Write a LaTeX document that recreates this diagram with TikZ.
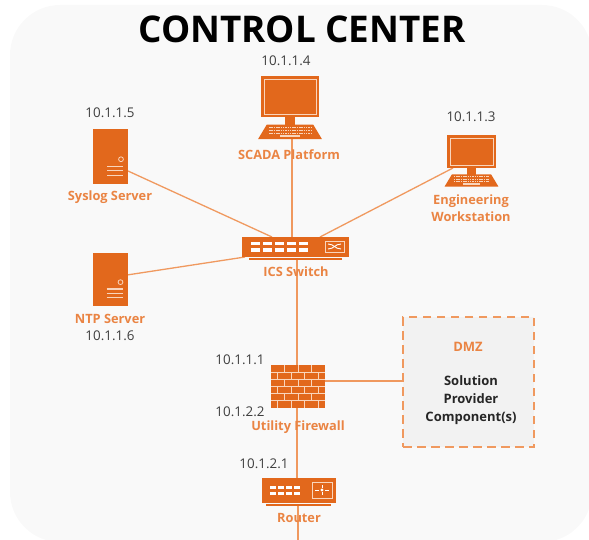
\documentclass[tikz,border=0pt]{standalone}
\usepackage{fontspec}
\setmainfont{Open Sans}
\usetikzlibrary{calc}
\definecolor{iconOrange}{HTML}{E2681C}
\definecolor{textOrange}{HTML}{EA8443}
\definecolor{lineOrange}{HTML}{F0995F}
\definecolor{iconLight}{HTML}{F9D5BC}
\definecolor{panelGray}{HTML}{F9F9F9}
\definecolor{dmzGray}{HTML}{F2F2F2}
\definecolor{ipGray}{HTML}{3F3F3F}
\tikzset{
  device/.style={fill=iconOrange,inner sep=0pt,outer sep=0pt},
  link/.style={draw=lineOrange,line width=1.3pt},
  devlabel/.style={text=textOrange,font=\fontsize{12.8}{17}\selectfont\bfseries,align=center,inner sep=0pt},
  iplabel/.style={text=ipGray,font=\fontsize{13.4}{16}\selectfont,inner sep=0pt},
  dmztext/.style={text=black!85,font=\fontsize{13}{18}\selectfont\bfseries,align=center,inner sep=0pt}
}
% #1 name, #2 centre of the screen, #3 screen width, #4 screen height
\newcommand\drawComputer[4]{
  \node[device,minimum width=#3pt,minimum height=#4pt] (#1) at (#2) {};
  \draw[iconLight,line width=0.7pt] ($(#1.north west)+(3,3)$) rectangle ($(#1.south east)+(-3,-3)$);
  \fill[iconOrange] ($(#1.south)+(-0.085*#3,0)$) rectangle ($(#1.south)+(0.085*#3,0.17*#3)$);
  \fill[iconOrange] ($(#1.south)+(-0.40*#3,0.13*#3)$) -- ($(#1.south)+(0.40*#3,0.13*#3)$)
    -- ($(#1.south)+(0.55*#3,0.38*#3)$) -- ($(#1.south)+(-0.55*#3,0.38*#3)$) -- cycle;
  \foreach \r in {0.18,0.23,0.28}
    \draw[iconLight,line width=0.9pt,dash pattern=on 1.5pt off 0.8pt]
      ($(#1.south)+(-0.36*#3,\r*#3)$) -- ($(#1.south)+(0.36*#3,\r*#3)$);
  \fill[iconLight] ($(#1.south)+(-0.17*#3,0.31*#3)$) rectangle ($(#1.south)+(0.17*#3,0.35*#3)$);
}
% #1 name, #2 centre, #3 height
\newcommand\drawServer[3]{
  \node[device,minimum width=35pt,minimum height=#3pt] (#1) at (#2) {};
  \draw[iconLight,line width=0.8pt] ($(#1.north east)+(-7,0.55*#3)$) circle (2.4pt);
  \foreach \r in {0.68,0.76,0.84}
    \draw[iconLight,line width=1.3pt] ($(#1.north west)+(14,\r*#3)$) -- ($(#1.north west)+(30,\r*#3)$);
}
\begin{document}
\begin{tikzpicture}[x=1pt,y=-1pt]
  \useasboundingbox (0,0) rectangle (589,540);
  \begin{scope}
    \clip (0,0) rectangle (589,540);
    \fill[panelGray,rounded corners=50pt] (10,5) rectangle (592,542);
  \end{scope}

  \node[inner sep=0pt,font=\fontsize{36.8}{40}\selectfont\bfseries] (TITLE) at (302,29) {CONTROL CENTER};

  %% Free ends of the links
  \coordinate (SCADAend) at (292,139);
  \coordinate (ENGend) at (453,168);
  \coordinate (SYSend) at (128,171);
  \coordinate (NTPend) at (127,275);
  \coordinate (SWa) at (292,237);
  \coordinate (SWb) at (320,237);
  \coordinate (SWc) at (272,237);
  \coordinate (SWd) at (245,257);
  \coordinate (SWe) at (297,260);
  \coordinate (FWa) at (297,365);
  \coordinate (FWb) at (297,408);
  \coordinate (FWc) at (325,381);
  \coordinate (DMZa) at (403,381);
  \coordinate (RTa) at (297,478);
  \coordinate (RTb) at (298,506);
  \coordinate (OUT) at (298,540);

  %% Links
  \draw[link] (SCADAend) -- (SWa);
  \draw[link] (ENGend) -- (SWb);
  \draw[link] (SYSend) -- (SWc);
  \draw[link] (NTPend) -- (SWd);
  \draw[link] (SWe) -- (FWa);
  \draw[link] (FWb) -- (RTa);
  \draw[link] (FWc) -- (DMZa);
  \draw[link] (RTb) -- (OUT);

  %% Computers and servers
  \drawComputer{SCADA}{290,96.5}{58}{41}
  \drawComputer{ENG}{471.5,151.5}{49}{33}
  \drawServer{SYSLOG}{110.5,156.5}{55}
  \drawServer{NTP}{110,279.5}{53}

  %% Switch
  \node[device,minimum width=107pt,minimum height=20pt] (SWITCH) at (295.5,247) {};
  \fill[iconOrange] (249,258) rectangle (342,260);
  \foreach \x in {255,267,279,291,303}
  {
    \fill[white] (\x-4.5,242) rectangle (\x+4.5,245.5);
    \fill[white] (\x-4.5,248) rectangle (\x+4.5,251.5);
  }
  \draw[iconLight,line width=0.7pt] (325,241) rectangle (344,252);
  \draw[white,line width=0.9pt] (328,244) .. controls (334,244) and (335,249) .. (341,249);
  \draw[white,line width=0.9pt] (328,249) .. controls (334,249) and (335,244) .. (341,244);

  %% Firewall
  \node[device,minimum width=54pt,minimum height=43pt] (FIREWALL) at (298,386.5) {};
  \foreach \r in {1,...,5}
    \draw[iconLight,line width=0.8pt] (271,365+\r*7.17) -- (325,365+\r*7.17);
  \foreach \r in {0,2,4}
    \foreach \x in {284.5,298,311.5}
      \draw[iconLight,line width=0.8pt] (\x,365+\r*7.17) -- (\x,365+\r*7.17+7.17);
  \foreach \r in {1,3,5}
    \foreach \x in {277.75,291.25,304.75,318.25}
      \draw[iconLight,line width=0.8pt] (\x,365+\r*7.17) -- (\x,365+\r*7.17+7.17);

  %% Router
  \node[device,minimum width=74pt,minimum height=25pt] (ROUTER) at (299,490.5) {};
  \fill[iconOrange] (266,504) rectangle (331,506);
  \foreach \x in {273,281,289,297}
  {
    \fill[white] (\x-3.4,486) rectangle (\x+3.4,489);
    \fill[white] (\x-3.4,491.5) rectangle (\x+3.4,494.5);
  }
  \draw[iconLight,line width=0.7pt] (312,482) rectangle (332,498);
  \draw[white,line width=0.9pt] (322,485) -- (322,488) (322,492) -- (322,495) (315,490) -- (319,490) (325,490) -- (329,490);
  \fill[white] (322,490) circle (1.6pt);

  %% DMZ
  \node[fill=dmzGray,draw=lineOrange,line width=1.2pt,dash pattern=on 8.5pt off 5.5pt,
    minimum width=131pt,minimum height=130pt,inner sep=0pt] (DMZ) at (468.5,382) {};
  \node[devlabel,font=\fontsize{13}{15}\selectfont\bfseries] (DMZlabel) at (468,347) {DMZ};
  \node[dmztext] (DMZtext) at (471,400) {Solution\\Provider\\Component(s)};

  %% Labels
  \node[devlabel] (SCADAlabel) at (289,155) {SCADA Platform};
  \node[devlabel] (ENGlabel) at (471,208.5) {Engineering\\Workstation};
  \node[devlabel] (SYSLOGlabel) at (110,197) {Syslog Server};
  \node[devlabel] (NTPlabel) at (110,319) {NTP Server};
  \node[devlabel] (SWITCHlabel) at (296,272) {ICS Switch};
  \node[devlabel] (FIREWALLlabel) at (298,427) {Utility Firewall};
  \node[devlabel] (ROUTERlabel) at (299,518) {Router};

  %% Addresses
  \node[iplabel] (IPscada) at (286,61) {10.1.1.4};
  \node[iplabel] (IPeng) at (471,117) {10.1.1.3};
  \node[iplabel] (IPsyslog) at (110,113) {10.1.1.5};
  \node[iplabel] (IPntp) at (110,336) {10.1.1.6};
  \node[iplabel] (IPfwa) at (240,360) {10.1.1.1};
  \node[iplabel] (IPfwb) at (240,412) {10.1.2.2};
  \node[iplabel] (IProuter) at (264,464) {10.1.2.1};
\end{tikzpicture}
\end{document}
